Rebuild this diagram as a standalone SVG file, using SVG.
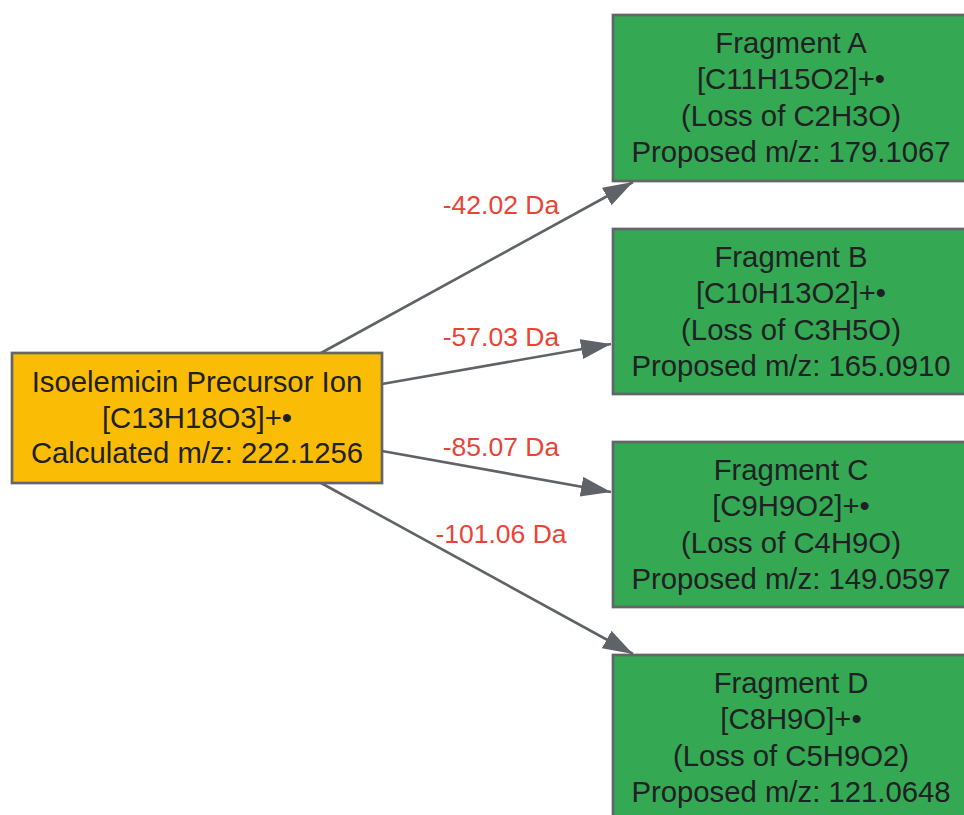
<svg xmlns="http://www.w3.org/2000/svg" width="964" height="815" viewBox="0 0 964 815">
<defs>
<style>
.node rect{stroke:#636569;stroke-width:2.7}
.pre rect{fill:#fbbc05}
.frag rect{fill:#34a853}
.node text{font-family:"Liberation Sans",Arial,sans-serif;font-size:29.3px;fill:#202124;text-anchor:middle}
.edges line{stroke:#5f6368;stroke-width:2.6;fill:none}
.lbl{font-family:"Liberation Sans",Arial,sans-serif;font-size:26.5px;fill:#ea4335;text-anchor:middle}
</style>
<marker id="arr" markerUnits="userSpaceOnUse" markerWidth="32" markerHeight="22" refX="30" refY="10" orient="auto" viewBox="0 0 32 22">
<path d="M0,0 L30,10 L0,20 z" fill="#5f6368"/>
</marker>
</defs>
<rect width="964" height="815" fill="#ffffff"/>
<g class="edges" id="edges">
<line x1="321" y1="353" x2="633" y2="182" marker-end="url(#arr)"/>
<line x1="382" y1="384" x2="611" y2="344" marker-end="url(#arr)"/>
<line x1="382" y1="451" x2="611" y2="492" marker-end="url(#arr)"/>
<line x1="321" y1="483" x2="633" y2="654" marker-end="url(#arr)"/>
<text class="lbl" x="501" y="214">-42.02 Da</text>
<text class="lbl" x="501" y="346">-57.03 Da</text>
<text class="lbl" x="501" y="456">-85.07 Da</text>
<text class="lbl" x="501" y="543">-101.06 Da</text>
</g>
<g id="precursor" class="node pre">
<rect x="12" y="353" width="370" height="130"/>
<text x="197" y="392">Isoelemicin Precursor Ion</text>
<text x="197" y="428">[C13H18O3]+•</text>
<text x="197" y="463">Calculated m/z: 222.1256</text>
</g>
<g id="fragA" class="node frag">
<rect x="613" y="15" width="357" height="166"/>
<text x="791" y="53">Fragment A</text>
<text x="791" y="89">[C11H15O2]+•</text>
<text x="791" y="126">(Loss of C2H3O)</text>
<text x="791" y="162">Proposed m/z: 179.1067</text>
</g>
<g id="fragB" class="node frag">
<rect x="613" y="229" width="357" height="165"/>
<text x="791" y="267">Fragment B</text>
<text x="791" y="303">[C10H13O2]+•</text>
<text x="791" y="340">(Loss of C3H5O)</text>
<text x="791" y="376">Proposed m/z: 165.0910</text>
</g>
<g id="fragC" class="node frag">
<rect x="613" y="442" width="357" height="165"/>
<text x="791" y="480">Fragment C</text>
<text x="791" y="516">[C9H9O2]+•</text>
<text x="791" y="553">(Loss of C4H9O)</text>
<text x="791" y="589">Proposed m/z: 149.0597</text>
</g>
<g id="fragD" class="node frag">
<rect x="613" y="655" width="357" height="170"/>
<text x="791" y="693">Fragment D</text>
<text x="791" y="729">[C8H9O]+•</text>
<text x="791" y="766">(Loss of C5H9O2)</text>
<text x="791" y="802">Proposed m/z: 121.0648</text>
</g>
</svg>
